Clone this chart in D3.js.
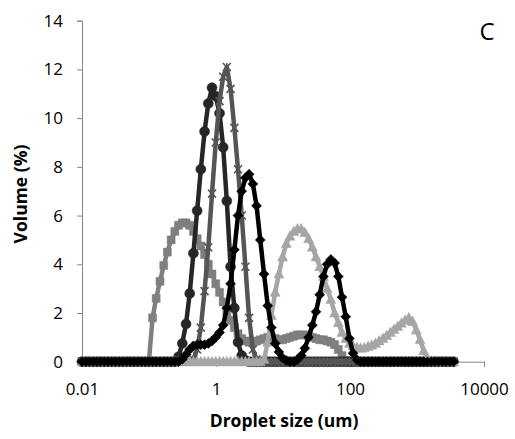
<!DOCTYPE html>
<html>
<head>
<meta charset="utf-8">
<script src="https://cdn.jsdelivr.net/npm/d3@7"></script>
<style>
  body { margin: 0; background: #fff; }
  svg { display: block; font-family: "Open Sans", sans-serif; }
</style>
</head>
<body>
<div id="chart"></div>
<script>
// droplet size classes (um)
const sizeClasses = [
  0.0100, 0.0114, 0.0129, 0.0147, 0.0167, 0.0189, 0.0215, 0.0244, 0.0278, 0.0315,
  0.0358, 0.0407, 0.0463, 0.0526, 0.0597, 0.0679, 0.0771, 0.0876, 0.0995, 0.113,
  0.128, 0.146, 0.166, 0.188, 0.214, 0.243, 0.276, 0.314, 0.357, 0.405,
  0.460, 0.523, 0.594, 0.675, 0.767, 0.872, 0.991, 1.13, 1.28, 1.45,
  1.65, 1.88, 2.13, 2.42, 2.75, 3.12, 3.55, 4.03, 4.58, 5.21,
  5.92, 6.72, 7.64, 8.68, 9.86, 11.2, 12.7, 14.5, 16.4, 18.7,
  21.2, 24.1, 27.4, 31.1, 35.3, 40.1, 45.6, 51.8, 58.9, 66.9,
  76.0, 86.4, 98.1, 111, 127, 144, 163, 186, 211, 240,
  272, 310, 352, 400, 454, 516, 586, 666, 756, 859,
  976, 1110, 1260, 1430, 1630, 1850, 2100, 2390, 2710, 3080,
  3500
];

// volume (%) per series
const volSquares = [
  0, 0, 0, 0, 0, 0, 0, 0, 0, 0,
  0, 0, 0, 0, 0, 0, 0, 0, 0, 1.8,
  2.6, 3.3, 3.95, 4.5, 5.0, 5.35, 5.6, 5.7, 5.7, 5.6,
  5.35, 5.05, 4.75, 4.4, 4.0, 3.6, 3.2, 2.85, 2.45, 2.05,
  1.7, 1.4, 1.15, 0.95, 0.85, 0.8, 0.8, 0.85, 0.9, 0.95,
  1.0, 1.0, 0.95, 0.9, 0.9, 0.95, 1.0, 1.05, 1.1, 1.1,
  1.1, 1.05, 1.0, 0.95, 0.9, 0.9, 0.85, 0.8, 0.7, 0.5,
  0.25, 0.05, 0, 0, 0, 0, 0, 0, 0, 0,
  0, 0, 0, 0, 0, 0, 0, 0, 0, 0,
  0, 0, 0, 0, 0, 0, 0, 0, 0, 0,
  0
];
const volCircles = [
  0, 0, 0, 0, 0, 0, 0, 0, 0, 0,
  0, 0, 0, 0, 0, 0, 0, 0, 0, 0,
  0, 0, 0, 0, 0, 0, 0.2, 0.75, 1.55, 2.8,
  4.45, 6.2, 7.9, 9.45, 10.6, 11.25, 10.9, 10.2, 8.8, 6.6,
  3.9, 2.2, 0.8, 0.25, 0.05, 0, 0, 0, 0, 0,
  0, 0, 0, 0, 0, 0, 0, 0, 0, 0,
  0, 0, 0, 0, 0, 0, 0, 0, 0, 0,
  0, 0, 0, 0, 0, 0, 0, 0, 0, 0,
  0, 0, 0, 0, 0, 0, 0, 0, 0, 0,
  0, 0, 0, 0, 0, 0, 0, 0, 0, 0,
  0
];
const volStars = [
  0, 0, 0, 0, 0, 0, 0, 0, 0, 0,
  0, 0, 0, 0, 0, 0, 0, 0, 0, 0,
  0, 0, 0, 0, 0, 0, 0, 0, 0, 0,
  0.1, 0.5, 1.4, 2.9, 4.7, 6.9, 9.0, 10.7, 11.7, 12.1,
  11.2, 9.6, 7.9, 6.0, 3.9, 1.8, 0.5, 0.1, 0, 0,
  0, 0, 0, 0, 0, 0, 0, 0, 0, 0,
  0, 0, 0, 0, 0, 0, 0, 0, 0, 0,
  0, 0, 0, 0, 0, 0, 0, 0, 0, 0,
  0, 0, 0, 0, 0, 0, 0, 0, 0, 0,
  0, 0, 0, 0, 0, 0, 0, 0, 0, 0,
  0
];
const volTriangles = [
  0, 0, 0, 0, 0, 0, 0, 0, 0, 0,
  0, 0, 0, 0, 0, 0, 0, 0, 0, 0,
  0, 0, 0, 0, 0, 0, 0, 0, 0, 0,
  0, 0, 0, 0, 0, 0, 0, 0, 0, 0,
  0, 0, 0, 0, 0, 0, 0, 0, 0, 0.1,
  0.8, 1.9, 2.85, 3.6, 4.3, 4.85, 5.15, 5.35, 5.45, 5.45,
  5.3, 5.05, 4.7, 4.3, 3.9, 3.5, 3.0, 2.55, 2.0, 1.6,
  1.2, 0.95, 0.75, 0.65, 0.58, 0.55, 0.57, 0.62, 0.68, 0.75,
  0.85, 0.95, 1.07, 1.2, 1.32, 1.45, 1.58, 1.7, 1.8, 1.65,
  1.3, 0.9, 0.45, 0.13, 0.02, 0, 0, 0, 0, 0,
  0
];
const volDiamonds = [
  0, 0, 0, 0, 0, 0, 0, 0, 0, 0,
  0, 0, 0, 0, 0, 0, 0, 0, 0, 0,
  0, 0, 0, 0, 0, 0, 0, 0.1, 0.3, 0.5,
  0.65, 0.7, 0.7, 0.7, 0.75, 0.85, 1.0, 1.2, 1.5, 2.2,
  3.2, 4.6, 6.0, 7.0, 7.55, 7.7, 7.3, 6.4, 5.0, 3.6,
  2.3, 1.4, 0.75, 0.4, 0.15, 0.05, 0, 0, 0.08, 0.25,
  0.55, 1.0, 1.5, 2.05, 2.75, 3.5, 4.0, 4.2, 4.05, 3.5,
  2.65, 1.85, 0.95, 0.35, 0.08, 0, 0, 0, 0, 0,
  0, 0, 0, 0, 0, 0, 0, 0, 0, 0,
  0, 0, 0, 0, 0, 0, 0, 0, 0, 0,
  0
];

const xTicks = [0.01, 1, 100, 10000];
const yTicks = [0, 2, 4, 6, 8, 10, 12, 14];

const width = 515, height = 439;

const svg = d3.select("#chart")
  .append("svg")
  .attr("width", width)
  .attr("height", height);

const x = d3.scaleLog().domain([0.01, 10000]).range([82, 484]);
const y = d3.scaleLinear().domain([0, 14]).range([361.7, 20.7]);

// axes
const yAxis = svg.append("g")
  .attr("transform", "translate(82,0)")
  .call(d3.axisLeft(y).tickValues(yTicks).tickSize(5).tickPadding(14));

const xAxis = svg.append("g")
  .attr("transform", `translate(0,${y(0)})`)
  .call(d3.axisBottom(x).tickValues(xTicks).tickSize(5).tickPadding(16).tickFormat(d => String(d)));

[xAxis, yAxis].forEach(g => {
  g.select(".domain").attr("stroke", "#868686");
  g.selectAll(".tick line").attr("stroke", "#868686");
  g.selectAll(".tick text")
    .attr("fill", "#000")
    .style("font-size", "17px")
    .style("font-family", "'Open Sans', sans-serif");
});

// marker shapes
const markerPath = {
  square: s => `M${-s / 2},${-s / 2}h${s}v${s}h${-s}Z`,
  circle: s => d3.symbol(d3.symbolCircle, Math.PI * (s / 2) * (s / 2))(),
  diamond: s => `M0,${-s / 2}L${s / 2},0L0,${s / 2}L${-s / 2},0Z`,
  triangle: s => `M0,${-s * 0.55}L${s / 2},${s * 0.4}L${-s / 2},${s * 0.4}Z`,
  star: s => `M${-s / 2},${-s / 2}L${s / 2},${s / 2}M${s / 2},${-s / 2}L${-s / 2},${s / 2}M0,${-s / 2}V${s / 2}`
};

const series = [
  { name: "squares", values: volSquares, color: "#7f7f7f", marker: "square", size: 8 },
  { name: "circles", values: volCircles, color: "#262626", marker: "circle", size: 10 },
  { name: "stars", values: volStars, color: "#555555", marker: "star", size: 8 },
  { name: "triangles", values: volTriangles, color: "#a6a6a6", marker: "triangle", size: 10 },
  { name: "diamonds", values: volDiamonds, color: "#000000", marker: "diamond", size: 10 }
];

const line = d3.line()
  .x(d => x(d.size))
  .y(d => y(d.v));

series.forEach(s => {
  const pts = sizeClasses.map((size, i) => ({ size: size, v: s.values[i] }));
  const g = svg.append("g").attr("class", `series ${s.name}`);

  g.append("path")
    .datum(pts)
    .attr("d", line)
    .attr("fill", "none")
    .attr("stroke", s.color)
    .attr("stroke-width", 4.5)
    .attr("stroke-linejoin", "round");

  g.selectAll("path.marker")
    .data(pts)
    .join("path")
    .attr("class", "marker")
    .attr("transform", d => `translate(${x(d.size)},${y(d.v)})`)
    .attr("d", markerPath[s.marker](s.size))
    .attr("fill", s.marker === "star" ? "none" : s.color)
    .attr("stroke", s.color)
    .attr("stroke-width", s.marker === "star" ? 1.6 : 0.5);
});

// titles
svg.append("text")
  .attr("x", 284)
  .attr("y", 427)
  .attr("text-anchor", "middle")
  .style("font-size", "17.5px")
  .style("font-weight", "bold")
  .text("Droplet size (um)");

svg.append("text")
  .attr("transform", "translate(27,194) rotate(-90)")
  .attr("text-anchor", "middle")
  .style("font-size", "17.5px")
  .style("font-weight", "bold")
  .text("Volume (%)");

svg.append("text")
  .attr("x", 487)
  .attr("y", 40)
  .attr("text-anchor", "middle")
  .style("font-size", "24px")
  .text("C");
</script>
</body>
</html>
